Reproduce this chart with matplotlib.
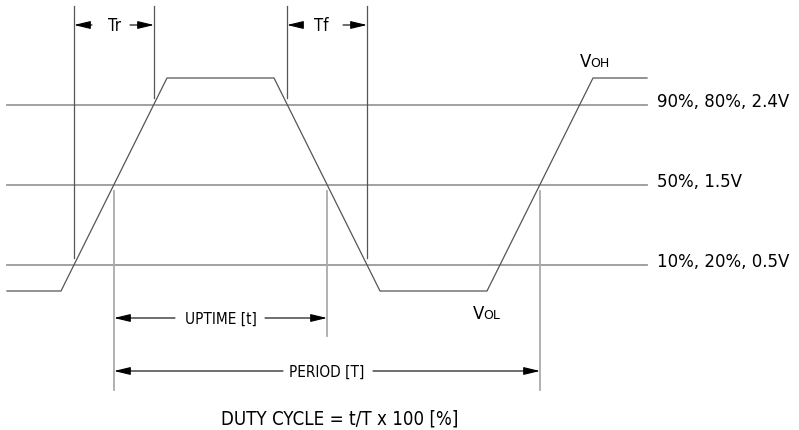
import matplotlib.pyplot as plt

# signal outline (canvas pixels, y grows downwards)
wave_x = [7, 61, 167, 274, 380, 487, 593, 647]
wave_y = [292, 292, 79, 79, 292, 292, 79, 79]

# threshold levels
level_y = [106, 186, 266]
level_labels = ['90%, 80%, 2.4V', '50%, 1.5V', '10%, 20%, 0.5V']
level_x0, level_x1 = 7, 647

# extension lines: x, top, bottom
dark_ext = [(74, 7, 259), (154, 7, 99), (287, 7, 99), (367, 7, 259)]
light_ext = [(114, 192, 391), (327, 192, 337), (540, 192, 391)]

# dimension arrows: label, left, right, y, label centre, inner gap left/right, size
dims = [
    ('Tr', 74, 154, 26, 114, 92, 130, 12),
    ('Tf', 287, 367, 26, 321, 302, 343, 12),
    ('UPTIME [t]', 114, 327, 319, 221, 175, 265, 11),
    ('PERIOD [T]', 114, 540, 372, 327, 283, 373, 11),
]

fig = plt.figure(figsize=(7.99, 4.31), dpi=100)
ax = fig.add_axes([0, 0, 1, 1])
ax.set_xlim(0, 799)
ax.set_ylim(431, 0)
ax.axis('off')

cond = dict(family='DejaVu Sans', fontstretch='condensed')

for y in level_y:
    ax.plot([level_x0, level_x1], [y, y], color='#9a9a9a', lw=1.3)
for y, lab in zip(level_y, level_labels):
    ax.text(657, y - 4, lab, fontsize=12, va='center', ha='left',
            family='DejaVu Sans', color='black')

ax.plot(wave_x, wave_y, color='#555555', lw=0.9)

for x, y0, y1 in dark_ext:
    ax.plot([x, x], [y0, y1], color='#555555', lw=0.9)
for x, y0, y1 in light_ext:
    ax.plot([x, x], [y0, y1], color='#aaaaaa', lw=1.3)

aprops = dict(arrowstyle='-|>,head_length=1.0,head_width=0.24', color='black',
              lw=0.8, shrinkA=0, shrinkB=0)
for lab, xl, xr, y, cx, gl, gr, fs in dims:
    ax.annotate('', xy=(xl, y), xytext=(gl, y), arrowprops=aprops)
    ax.annotate('', xy=(xr, y), xytext=(gr, y), arrowprops=aprops)
    ax.text(cx, y, lab, fontsize=fs, ha='center', va='center', **cond)

# V_OH / V_OL labels
ax.text(580, 67, 'V', fontsize=12, ha='left', va='baseline', family='DejaVu Sans')
ax.text(590, 67, 'OH', fontsize=9, ha='left', va='baseline', family='DejaVu Sans')
ax.text(473, 319, 'V', fontsize=12, ha='left', va='baseline', family='DejaVu Sans')
ax.text(483, 319, 'OL', fontsize=9, ha='left', va='baseline', family='DejaVu Sans')

ax.text(340, 419, 'DUTY CYCLE = t/T x 100 [%]', fontsize=13.4, ha='center',
        va='center', **cond)

fig.savefig('out.png', dpi=100)
